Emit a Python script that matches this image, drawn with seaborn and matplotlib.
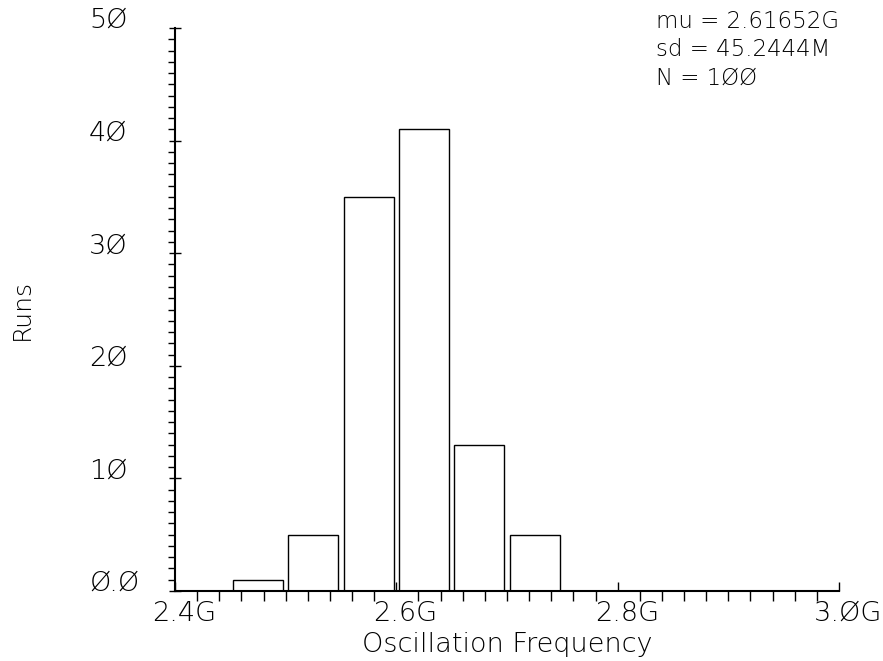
import matplotlib
matplotlib.use("Agg")
import matplotlib.pyplot as plt
import matplotlib.transforms as mtransforms
from matplotlib.ticker import MultipleLocator
import numpy as np
import pandas as pd
import seaborn as sns

# Histogram bins (GHz) and run counts per bin
bin_left = [2.40, 2.45, 2.50, 2.55, 2.60, 2.65, 2.70, 2.75, 2.80, 2.85, 2.90]
bin_width = 0.05
runs = [0, 1, 5, 35, 41, 13, 5, 0, 0, 0, 0]

# Axis ticks and labels
x_ticks = [2.4, 2.6, 2.8, 3.0]
x_tick_labels = ["2.4G", "2.6G", "2.8G", "3.ØG"]
y_ticks = [0, 10, 20, 30, 40, 50]
y_tick_labels = ["Ø.Ø", "1Ø", "2Ø", "3Ø", "4Ø", "5Ø"]

# Summary statistics block
stats_lines = ["mu = 2.61652G", "sd = 45.2444M", "N = 1ØØ"]

sns.set_style("ticks")
plt.rcParams["font.family"] = ["DejaVu Sans"]
plt.rcParams["font.weight"] = 200
plt.rcParams["axes.labelweight"] = 200
for key in ("text.color", "axes.labelcolor", "xtick.color", "ytick.color",
            "axes.edgecolor"):
    plt.rcParams[key] = "black"

df = pd.DataFrame({
    "freq": np.array(bin_left) + bin_width / 2,
    "runs": runs,
})
edges = list(bin_left) + [bin_left[-1] + bin_width]

W, H = 883, 661
fig = plt.figure(figsize=(W / 100, H / 100), dpi=100)
ax = fig.add_axes([175 / W, 1 - 591 / H, 664 / W, 563 / H])

sns.histplot(data=df, x="freq", weights="runs", bins=edges, shrink=0.9,
             fill=False, color="black", linewidth=1.0, ax=ax)

ax.set_xlim(2.4, 3.0)
ax.set_ylim(0, 50)

for side in ("top", "right"):
    ax.spines[side].set_visible(False)
for side in ("left", "bottom"):
    ax.spines[side].set_linewidth(1.5)
    ax.spines[side].set_color("black")

# y axis: major ticks crossing the spine, minor ticks outside every unit
ax.set_yticks(y_ticks, labels=y_tick_labels, ha="left", va="baseline")
ax.yaxis.set_minor_locator(MultipleLocator(1))
ax.tick_params(axis="y", which="major", direction="inout", length=9,
               width=1.0, pad=57.4, labelsize=19.5)
ax.tick_params(axis="y", which="minor", direction="out", length=5, width=1.0)

# x axis: major ticks inside, minor ticks outside every 20 MHz
ax.set_xticks(x_ticks, labels=x_tick_labels)
ax.xaxis.set_minor_locator(MultipleLocator(0.02))
ax.tick_params(axis="x", which="major", direction="in", length=6.5,
               width=1.0, pad=7, labelsize=19.5)
ax.tick_params(axis="x", which="minor", direction="out", length=7, width=1.0)
shift = mtransforms.ScaledTranslation(6.5 / 72, 0, fig.dpi_scale_trans)
for lab in ax.get_xticklabels():
    lab.set_transform(lab.get_transform() + shift)

ax.set_xlabel("Oscillation Frequency", fontsize=19.5, fontweight=200)
ax.xaxis.set_label_coords(0.5, -0.0728)
ax.set_ylabel("Runs", fontsize=18, fontweight=200)
ax.yaxis.set_label_coords(-0.2123, 0.5)

for i, line in enumerate(stats_lines):
    fig.text(656 / W, 1 - (28 + 28.5 * i) / H, line, fontsize=16.5,
             ha="left", va="baseline")

fig.savefig("out.png", dpi=100)
